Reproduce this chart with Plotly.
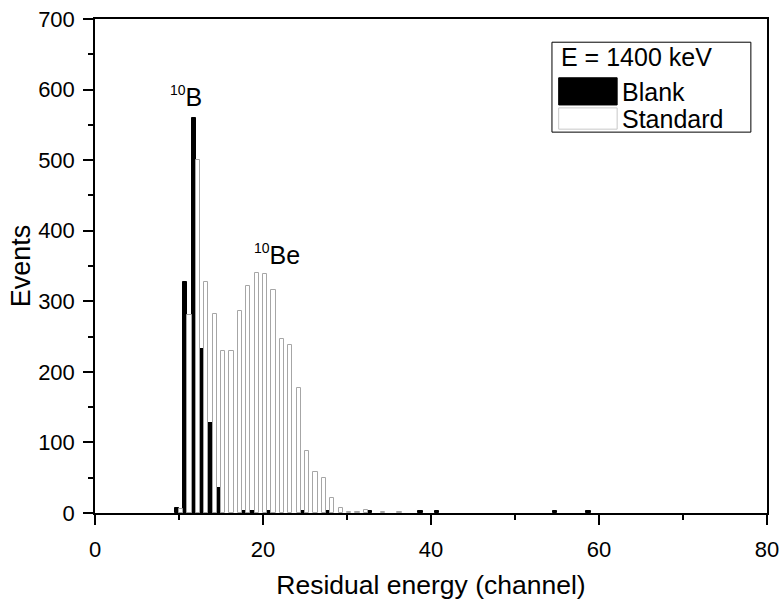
import plotly.graph_objects as go

# Residual-energy spectra at E = 1400 keV, counts per channel
channels = list(range(10, 60))
blank_counts = [7, 328, 560, 232, 127, 35, 0, 0, 3, 3,
                0, 3, 0, 0, 0, 3, 0, 0, 3, 0,
                0, 0, 0, 3, 0, 0, 0, 0, 0, 3,
                0, 3, 0, 0, 0, 0, 0, 0, 0, 0,
                0, 0, 0, 0, 0, 3, 0, 0, 0, 3]
standard_counts = [5, 280, 500, 327, 282, 230, 230, 286, 322, 340,
                   339, 316, 246, 238, 177, 88, 58, 49, 21, 7,
                   1, 1, 4, 0, 2, 0, 1, 0, 0, 0,
                   0, 0, 0, 0, 0, 0, 0, 0, 0, 0,
                   0, 0, 0, 0, 0, 0, 0, 0, 0, 0]

series_names = ["Blank", "Standard"]
legend_title = "E = 1400 keV"
x_title = "Residual energy (channel)"
y_title = "Events"
peak_labels = ['<sup><span style="font-size:14px">10</span></sup>B',
               '<sup><span style="font-size:14px">10</span></sup>Be']
peak_pos = [(10.8, 590), (21.7, 367)]

FONT = "Liberation Sans, Arial, sans-serif"


def nz(vals):
    return [v if v > 0 else None for v in vals]


fig = go.Figure()
fig.add_trace(go.Bar(
    x=channels, y=nz(blank_counts), name=series_names[0],
    marker=dict(color="black", line=dict(color="black", width=1)),
    showlegend=False,
))
fig.add_trace(go.Bar(
    x=channels, y=nz(standard_counts), name=series_names[1],
    marker=dict(color="white", line=dict(color="#a6a6a6", width=1)),
    showlegend=False,
))

axis_common = dict(
    showline=True, linecolor="black", linewidth=1.5, mirror=True,
    ticks="outside", ticklen=10, tickwidth=1.5, tickcolor="black",
    showgrid=False, zeroline=False, automargin=False,
    tickfont=dict(family=FONT, size=22, color="black"),
)

fig.update_xaxes(
    range=[0, 80], dtick=20, tick0=0,
    minor=dict(dtick=10, ticks="outside", ticklen=5, tickwidth=1.5, tickcolor="black"),
    title=dict(text=x_title, font=dict(family=FONT, size=26.5, color="black"), standoff=14),
    ticklabelstandoff=6,
    **axis_common,
)
fig.update_yaxes(
    range=[0, 700], dtick=100, tick0=0,
    minor=dict(dtick=50, ticks="outside", ticklen=5, tickwidth=1.5, tickcolor="black"),
    title=dict(text=y_title, font=dict(family=FONT, size=27, color="black"), standoff=0),
    ticklabelstandoff=4,
    **axis_common,
)

# Peak labels
for text, (px, py) in zip(peak_labels, peak_pos):
    fig.add_annotation(x=px, y=py, xref="x", yref="y", text=text, showarrow=False,
                       font=dict(family=FONT, size=25, color="black"),
                       xanchor="center", yanchor="middle")

# Legend box drawn in paper coordinates
shapes = [
    dict(type="rect", xref="paper", yref="paper", x0=0.680, x1=0.976, y0=0.771, y1=0.953,
         line=dict(color="black", width=1), fillcolor="white"),
    dict(type="rect", xref="paper", yref="paper", x0=0.690, x1=0.777, y0=0.826, y1=0.881,
         line=dict(color="black", width=1), fillcolor="black"),
    dict(type="rect", xref="paper", yref="paper", x0=0.690, x1=0.777, y0=0.777, y1=0.820,
         line=dict(color="#c8c8c8", width=1), fillcolor="white"),
]
fig.update_layout(shapes=shapes)

legend_rows = [(legend_title, 0.690, 0.923), (series_names[0], 0.781, 0.852), (series_names[1], 0.781, 0.797)]
for text, lx, ly in legend_rows:
    fig.add_annotation(x=lx, y=ly, xref="paper", yref="paper", text=text, showarrow=False,
                       font=dict(family=FONT, size=25, color="black"),
                       xanchor="left", yanchor="middle")

fig.update_layout(
    width=783, height=601,
    margin=dict(l=95, r=16, t=19, b=88, autoexpand=False),
    barmode="group", bargap=0, bargroupgap=0,
    plot_bgcolor="white", paper_bgcolor="white",
    font=dict(family=FONT, color="black"),
)

fig.write_html("out.html")
